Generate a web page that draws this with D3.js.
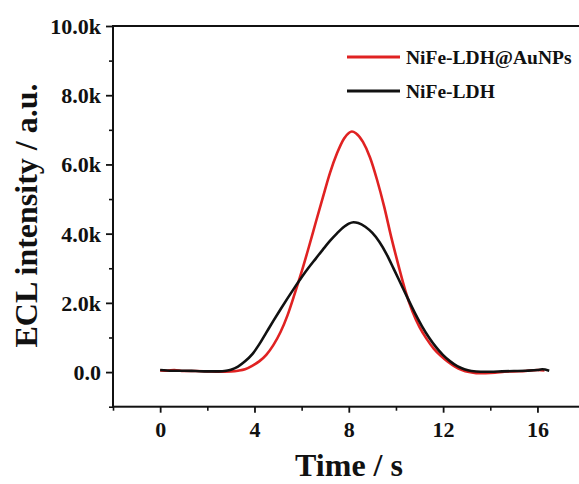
<!DOCTYPE html>
<html>
<head>
<meta charset="utf-8">
<script src="https://cdn.jsdelivr.net/npm/d3@7/dist/d3.min.js"></script>
<style>
  html, body { margin: 0; padding: 0; background: #fff; }
  svg { display: block; }
  text { font-family: "Liberation Serif", "Times New Roman", serif; font-weight: bold; fill: #111; }
</style>
</head>
<body>
<svg id="chart" width="579" height="484"></svg>
<script>
// ECL transients, time in s, intensity in a.u.
const seriesNames = ["NiFe-LDH@AuNPs", "NiFe-LDH"];
const seriesColors = ["#e02222", "#111111"];

const timeAuNPs = [0, 0.3, 0.6, 1.0, 1.5, 2.0, 2.5, 3.0, 3.3, 3.6, 3.9, 4.2, 4.5, 4.8, 5.1, 5.4, 5.7, 6.0, 6.3, 6.6, 6.9, 7.2, 7.5, 7.8, 8.0, 8.13, 8.3, 8.6, 8.9, 9.2, 9.5, 9.8, 10.1, 10.4, 10.7, 11.0, 11.3, 11.6, 11.9, 12.2, 12.5, 12.8, 13.1, 13.4, 13.8, 14.2, 14.6, 15.0, 15.5, 16.0, 16.3];
const eclAuNPs = [50, 40, 60, 30, 30, 20, 10, 20, 40, 80, 180, 310, 500, 780, 1150, 1640, 2250, 2900, 3600, 4330, 5050, 5750, 6320, 6750, 6910, 6950, 6900, 6650, 6200, 5550, 4780, 3900, 3100, 2350, 1750, 1300, 960, 680, 470, 300, 160, 60, 0, -30, -30, -20, 10, 20, 30, 60, 50];

const timeLDH = [0, 0.5, 1.0, 1.5, 2.0, 2.5, 2.8, 3.0, 3.3, 3.6, 3.9, 4.2, 4.5, 4.8, 5.1, 5.4, 5.7, 6.0, 6.3, 6.6, 6.9, 7.2, 7.5, 7.8, 8.0, 8.2, 8.4, 8.7, 9.0, 9.3, 9.6, 9.9, 10.2, 10.5, 10.8, 11.1, 11.4, 11.7, 12.0, 12.3, 12.6, 12.9, 13.2, 13.6, 14.0, 14.5, 15.0, 15.5, 16.0, 16.2, 16.5];
const eclLDH = [60, 40, 40, 30, 20, 20, 40, 70, 160, 310, 510, 800, 1140, 1480, 1810, 2130, 2440, 2740, 3020, 3280, 3540, 3790, 4010, 4200, 4290, 4330, 4310, 4200, 4020, 3760, 3410, 2990, 2560, 2130, 1710, 1330, 1000, 720, 490, 310, 170, 80, 30, 10, 10, 20, 30, 40, 60, 80, 40];

const xMajorTicks = [0, 4, 8, 12, 16];
const xMinorTicks = [-2, 2, 6, 10, 14, 18];
const yMajorTicks = [0, 2000, 4000, 6000, 8000, 10000];
const yMinorTicks = [-1000, 1000, 3000, 5000, 7000, 9000];

const series = [
  { name: seriesNames[0], color: seriesColors[0], t: timeAuNPs, v: eclAuNPs },
  { name: seriesNames[1], color: seriesColors[1], t: timeLDH, v: eclLDH }
];

const svg = d3.select("#chart");
const plotLeft = 113, plotTop = 26, plotBottom = 406.7;
const x = d3.scaleLinear().domain([-2, 18]).range([plotLeft, plotLeft + 20 * 23.58]);
const y = d3.scaleLinear().domain([-1000, 10000]).range([plotBottom, plotTop]);

const fmtY = v => v === 0 ? "0.0" : (v / 1000).toFixed(1) + "k";

// Minor ticks (no labels)
svg.append("g").attr("transform", `translate(${plotLeft},0)`)
  .call(d3.axisLeft(y).tickValues(yMinorTicks).tickSize(4).tickFormat(""))
  .call(g => g.select(".domain").remove())
  .call(g => g.selectAll("line").attr("stroke", "#111").attr("stroke-width", 1.6));
svg.append("g").attr("transform", `translate(0,${plotBottom})`)
  .call(d3.axisBottom(x).tickValues(xMinorTicks).tickSize(4).tickFormat(""))
  .call(g => g.select(".domain").remove())
  .call(g => g.selectAll("line").attr("stroke", "#111").attr("stroke-width", 1.6));

// Major ticks with labels
const yAxis = svg.append("g").attr("transform", `translate(${plotLeft},0)`)
  .call(d3.axisLeft(y).tickValues(yMajorTicks).tickSize(7).tickPadding(5).tickFormat(fmtY));
yAxis.select(".domain").remove();
yAxis.selectAll("line").attr("stroke", "#111").attr("stroke-width", 1.8);
yAxis.selectAll("text").attr("font-size", 22).attr("dy", "0.34em")
  .style("font-family", '"Liberation Serif", serif').style("font-weight", "bold").attr("fill", "#111");

const xAxis = svg.append("g").attr("transform", `translate(0,${plotBottom})`)
  .call(d3.axisBottom(x).tickValues(xMajorTicks).tickSize(6).tickPadding(9).tickFormat(d3.format("d")));
xAxis.select(".domain").remove();
xAxis.selectAll("line").attr("stroke", "#111").attr("stroke-width", 1.8);
xAxis.selectAll("text").attr("font-size", 22)
  .style("font-family", '"Liberation Serif", serif').style("font-weight", "bold").attr("fill", "#111");

// Frame: left, bottom, top and right edges
const x0 = x.range()[0], x1 = x.range()[1];
svg.append("rect")
  .attr("x", x0).attr("y", plotTop)
  .attr("width", x1 - x0).attr("height", plotBottom - plotTop)
  .attr("fill", "none").attr("stroke", "#111").attr("stroke-width", 2);

// Curves
const line = d3.line()
  .x(d => x(d[0])).y(d => y(d[1]))
  .curve(d3.curveMonotoneX);

series.forEach(s => {
  svg.append("path")
    .datum(s.t.map((t, i) => [t, s.v[i]]))
    .attr("fill", "none")
    .attr("stroke", s.color)
    .attr("stroke-width", 2.6)
    .attr("stroke-linejoin", "round")
    .attr("d", line);
});

// Legend
const legend = svg.append("g");
const legendRows = [57, 91];
series.forEach((s, i) => {
  legend.append("line")
    .attr("x1", 347).attr("x2", 400)
    .attr("y1", legendRows[i]).attr("y2", legendRows[i])
    .attr("stroke", s.color).attr("stroke-width", 2.8);
  legend.append("text")
    .attr("x", 406).attr("y", legendRows[i] + 6.5)
    .attr("font-size", 19.5)
    .text(s.name);
});

// Axis titles
svg.append("text")
  .attr("x", 349).attr("y", 476)
  .attr("text-anchor", "middle")
  .attr("font-size", 32)
  .text("Time / s");

svg.append("text")
  .attr("transform", "translate(37,215.5) rotate(-90)")
  .attr("text-anchor", "middle")
  .attr("font-size", 32)
  .text("ECL intensity / a.u.");
</script>
</body>
</html>
